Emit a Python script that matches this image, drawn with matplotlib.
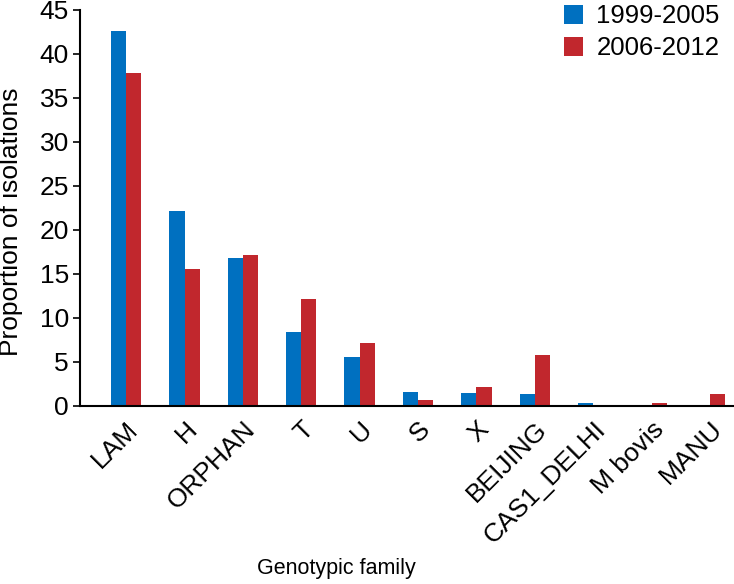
import matplotlib
matplotlib.use('Agg')
import matplotlib.pyplot as plt
import numpy as np

families = ['LAM', 'H', 'ORPHAN', 'T', 'U', 'S', 'X', 'BEIJING', 'CAS1_DELHI', 'M bovis', 'MANU']
early = [42.6, 22.2, 16.8, 8.4, 5.6, 1.6, 1.5, 1.3, 0.35, 0.0, 0.0]  # 1999-2005
late = [37.8, 15.6, 17.2, 12.1, 7.2, 0.7, 2.1, 5.8, 0.0, 0.3, 1.3]  # 2006-2012

plt.rcParams['font.family'] = ['Liberation Sans', 'DejaVu Sans']

fig = plt.figure(figsize=(7.34, 5.84), dpi=100)
ax = fig.add_axes([0.109, 0.305, 0.89, 0.678])

x = np.arange(len(families))
w = 0.26
ax.bar(x - w/2, early, w, color='#0070C0', label='1999-2005')
ax.bar(x + w/2, late, w, color='#C1272D', label='2006-2012')

ax.set_xlim(-0.79, 10.4)
ax.set_ylim(0, 45)
ax.set_yticks(range(0, 46, 5))
ax.set_xticks(x)
ax.set_xticklabels(families, rotation=45, ha='right', rotation_mode='anchor', fontsize=19)
ax.tick_params(axis='x', length=0, pad=8)
ax.tick_params(axis='y', labelsize=19, length=5, width=1.2, pad=3)
for s in ['top', 'right']:
    ax.spines[s].set_visible(False)
ax.spines['left'].set_linewidth(1.5)
ax.spines['bottom'].set_linewidth(1.5)

ax.set_ylabel('Proportion of isolations', fontsize=19)
ax.yaxis.set_label_coords(-0.088, 0.465)
ax.set_xlabel('Genotypic family', fontsize=15.5)
ax.xaxis.set_label_coords(0.393, -0.385)

ax.legend(loc='upper right', frameon=False, fontsize=18.5, handlelength=0.75, handleheight=0.75,
          handletextpad=0.5, labelspacing=0.3, borderaxespad=0.0, bbox_to_anchor=(0.995, 1.04))

fig.savefig('out.png', dpi=100)
